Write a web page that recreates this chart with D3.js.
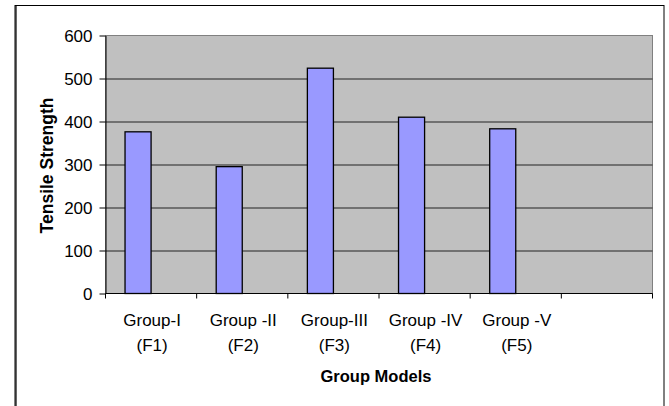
<!DOCTYPE html>
<html>
<head>
<meta charset="utf-8">
<script src="https://cdn.jsdelivr.net/npm/d3@7/dist/d3.min.js"></script>
<style>
  html, body { margin: 0; padding: 0; background: #fff; }
  svg { display: block; font-family: "Liberation Sans", Arial, sans-serif; }
</style>
</head>
<body>
<svg id="chart" width="669" height="406"></svg>
<script>
// Tensile strength per group model
const categories = ["Group-I|(F1)", "Group -II|(F2)", "Group-III|(F3)", "Group -IV|(F4)", "Group -V|(F5)", ""];
const tensileStrength = [376, 295, 524, 410, 383, null];
const yTicks = [0, 100, 200, 300, 400, 500, 600];

const svg = d3.select("#chart");
const margin = { left: 105.5, right: 16.5, top: 35.5, bottom: 112.5 };
const W = 669, H = 406;
const plotW = W - margin.left - margin.right;
const plotH = H - margin.top - margin.bottom;
const FONT = "Liberation Sans, Arial, sans-serif";

// outer chart frame
svg.append("rect")
  .attr("x", 15).attr("y", 5.5)
  .attr("width", 649).attr("height", 410)
  .attr("fill", "#fff").attr("stroke", "#000").attr("stroke-width", 1);
svg.append("line")
  .attr("x1", 16).attr("x2", 16).attr("y1", 5.5).attr("y2", 406)
  .attr("stroke", "#000").attr("stroke-width", 1.2);

const g = svg.append("g").attr("transform", `translate(${margin.left},${margin.top})`);

const x = d3.scaleBand().domain(categories.map((c, i) => i)).range([0, plotW]).padding(0);
const y = d3.scaleLinear().domain([0, 600]).range([plotH, 0]);

// plot area background
g.append("rect")
  .attr("x", 0).attr("y", 0).attr("width", plotW).attr("height", plotH)
  .attr("fill", "#c0c0c0").attr("stroke", "#808080").attr("stroke-width", 1);

// horizontal gridlines
g.selectAll("line.grid").data(yTicks.filter(t => t > 0 && t < 600)).enter()
  .append("line").attr("class", "grid")
  .attr("x1", 0).attr("x2", plotW)
  .attr("y1", d => Math.round(y(d)) + 0.5).attr("y2", d => Math.round(y(d)) + 0.5)
  .attr("stroke", "#222").attr("stroke-width", 1);
g.append("line")
  .attr("x1", 0).attr("x2", plotW).attr("y1", 0).attr("y2", 0)
  .attr("stroke", "#808080").attr("stroke-width", 1);

// bars: clustered layout with gap width 150%, one bar occupying the left slot
const barW = x.bandwidth() / 3.5;
const barOff = barW * 0.75;
g.selectAll("rect.bar").data(tensileStrength.map((v, i) => ({ v, i })).filter(d => d.v != null)).enter()
  .append("rect").attr("class", "bar")
  .attr("x", d => x(d.i) + barOff)
  .attr("y", d => y(d.v))
  .attr("width", barW)
  .attr("height", d => plotH - y(d.v))
  .attr("fill", "#9999ff").attr("stroke", "#000").attr("stroke-width", 1.3);

// y axis
const yAxis = d3.axisLeft(y).tickValues(yTicks).tickSize(6).tickPadding(7).tickSizeOuter(0);
const ya = g.append("g").call(yAxis).attr("font-size", 17).attr("font-family", FONT);
ya.select(".domain").attr("stroke", "#000");
ya.selectAll(".tick line").attr("stroke", "#000");
ya.selectAll("text").attr("fill", "#000").attr("dy", "0.36em");

// x axis baseline and category ticks
const xa = g.append("g").attr("transform", `translate(0,${plotH})`);
xa.append("line").attr("x1", 0).attr("x2", plotW).attr("y1", 0).attr("y2", 0).attr("stroke", "#000");
const edges = d3.range(categories.length + 1).map(i => i === categories.length ? plotW : x(i));
xa.selectAll("line.tick").data(edges).enter()
  .append("line").attr("class", "tick")
  .attr("x1", d => d).attr("x2", d => d).attr("y1", 0).attr("y2", 5)
  .attr("stroke", "#000");

// category labels (two lines each)
const labels = xa.selectAll("text.cat").data(categories.map((c, i) => ({ c, i })).filter(d => d.c)).enter()
  .append("text").attr("class", "cat")
  .attr("text-anchor", "middle").attr("font-size", 17).attr("font-family", FONT).attr("fill", "#000");
labels.each(function (d) {
  const parts = d.c.split("|");
  const cx = x(d.i) + x.bandwidth() / 2 + 1;
  d3.select(this).selectAll("tspan").data(parts).enter().append("tspan")
    .attr("x", cx)
    .attr("y", (p, k) => 32 + k * 25)
    .text(p => p);
});

// axis titles
svg.append("text")
  .attr("x", margin.left + plotW / 2 - 3).attr("y", 382)
  .attr("text-anchor", "middle").attr("font-size", 16.5).attr("font-weight", "bold")
  .attr("font-family", FONT)
  .text("Group Models");
svg.append("text")
  .attr("transform", `translate(53,${margin.top + plotH / 2 + 1}) rotate(-90)`)
  .attr("text-anchor", "middle").attr("font-size", 17.5).attr("font-weight", "bold")
  .attr("font-family", FONT)
  .text("Tensile Strength");
</script>
</body>
</html>
